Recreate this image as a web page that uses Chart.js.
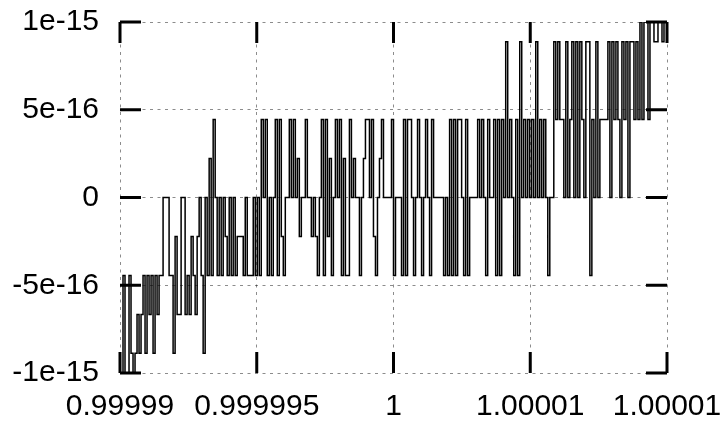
<!DOCTYPE html>
<html>
<head>
<meta charset="utf-8">
<script src="https://cdn.jsdelivr.net/npm/chart.js@4"></script>
<style>
  html, body { margin: 0; padding: 0; background: #fff; }
  canvas { display: block; }
</style>
</head>
<body>
<canvas id="plot" width="726" height="421"></canvas>
<script>
// x range and ticks
const xMin = 0.99999;
const xMax = 1.00001;
const xTickValues = [0.99999, 0.999995, 1, 1.000005, 1.00001];
const xTickLabels = ['0.99999', '0.999995', '1', '1.00001', '1.00001'];

// y ticks
const yTickValues = [-1e-15, -5e-16, 0, 5e-16, 1e-15];
const yTickLabels = ['-1e-15', '-5e-16', '0', '5e-16', '1e-15'];

const yValues = [
  -1e-15, -1e-15, -4.44e-16, -1e-15, -1e-15, -4.44e-16, -8.88e-16, -1e-15, -8.88e-16, -6.66e-16,
  -8.88e-16, -6.66e-16, -4.44e-16, -8.88e-16, -4.44e-16, -6.66e-16, -4.44e-16, -8.88e-16, -4.44e-16, -6.66e-16,
  -4.44e-16, -4.44e-16, 0, 0, 0, -4.44e-16, -4.44e-16, -8.88e-16, -2.22e-16, -6.66e-16,
  -6.66e-16, 0, 0, -6.66e-16, -4.44e-16, -6.66e-16, -2.22e-16, -4.44e-16, -6.66e-16, -2.22e-16,
  0, -4.44e-16, -8.88e-16, 0, -4.44e-16, 2.22e-16, -4.44e-16, 4.44e-16, 0, -4.44e-16,
  0, -4.44e-16, 0, -2.22e-16, -4.44e-16, 0, -4.44e-16, 0, -4.44e-16, -2.22e-16,
  -2.22e-16, -2.22e-16, -4.44e-16, 0, -4.44e-16, -4.44e-16, -4.44e-16, 0, -4.44e-16, 0,
  -4.44e-16, 4.44e-16, 0, 4.44e-16, -4.44e-16, 0, -4.44e-16, 0, 4.44e-16, -4.44e-16,
  4.44e-16, -2.22e-16, -4.44e-16, 0, 0, 4.44e-16, 0, 4.44e-16, 0, 2.22e-16,
  -2.22e-16, 0, 0, 4.44e-16, 0, 0, -2.22e-16, 0, -2.22e-16, -4.44e-16,
  0, 4.44e-16, -4.44e-16, 4.44e-16, -2.22e-16, 2.22e-16, -4.44e-16, 0, 4.44e-16, 0,
  4.44e-16, -4.44e-16, 2.22e-16, -4.44e-16, -4.44e-16, 4.44e-16, 0, 2.22e-16, 0, 0,
  -4.44e-16, 0, 2.22e-16, 4.44e-16, 4.44e-16, 0, 4.44e-16, -2.22e-16, -4.44e-16, 0,
  2.22e-16, 4.44e-16, 0, 0, 0, 0, 4.44e-16, -4.44e-16, 0, 0,
  0, -4.44e-16, 4.44e-16, -4.44e-16, 4.44e-16, 4.44e-16, 0, -4.44e-16, 0, 4.44e-16,
  0, -4.44e-16, 0, 4.44e-16, 0, -4.44e-16, 4.44e-16, 0, 0, 0,
  0, 0, -4.44e-16, 0, -4.44e-16, 4.44e-16, -4.44e-16, 4.44e-16, -4.44e-16, 4.44e-16,
  4.44e-16, 0, -4.44e-16, 4.44e-16, -4.44e-16, 0, 0, 0, 0, 4.44e-16,
  0, 4.44e-16, 0, -4.44e-16, 4.44e-16, 0, 0, 4.44e-16, -4.44e-16, 4.44e-16,
  -4.44e-16, 4.44e-16, 0, 8.88e-16, 0, 4.44e-16, 0, -4.44e-16, 4.44e-16, -4.44e-16,
  8.88e-16, 0, 4.44e-16, 0, 4.44e-16, 0, 4.44e-16, 0, 8.88e-16, 0,
  4.44e-16, 0, 4.44e-16, 0, -4.44e-16, 0, 0, 8.88e-16, 4.44e-16, 8.88e-16,
  4.44e-16, 4.44e-16, 0, 8.88e-16, 0, 4.44e-16, 8.88e-16, 0, 8.88e-16, 0,
  8.88e-16, 4.44e-16, 0, 8.88e-16, 8.88e-16, -4.44e-16, 4.44e-16, 0, 8.88e-16, 0,
  4.44e-16, 4.44e-16, 4.44e-16, 4.44e-16, 8.88e-16, 0, 8.88e-16, 4.44e-16, 8.88e-16, 4.44e-16,
  0, 8.88e-16, 4.44e-16, 8.88e-16, 0, 8.88e-16, 8.88e-16, 4.44e-16, 8.88e-16, 4.44e-16,
  1e-15, 4.44e-16, 1e-15, 1e-15, 4.44e-16, 1e-15, 1e-15, 8.88e-16, 8.88e-16, 1e-15,
  1e-15, 8.88e-16, 1e-15, 1e-15
];

const points = yValues.map((y, i) => ({
  x: xMin + i * (xMax - xMin) / (yValues.length - 1),
  y: y
}));

const labelFont = { family: 'Liberation Sans, Arial, sans-serif', size: 30 };

// gnuplot style: short thick tick marks pointing inward on all four sides
const innerTicks = {
  id: 'innerTicks',
  afterDatasetsDraw(chart) {
    const { ctx, chartArea: a, scales } = chart;
    const len = 21;
    ctx.save();
    ctx.strokeStyle = '#000';
    ctx.lineWidth = 3;
    ctx.beginPath();
    xTickValues.forEach(v => {
      const px = scales.x.getPixelForValue(v);
      ctx.moveTo(px, a.top); ctx.lineTo(px, a.top + len);
      ctx.moveTo(px, a.bottom); ctx.lineTo(px, a.bottom - len);
    });
    yTickValues.forEach(v => {
      const py = scales.y.getPixelForValue(v);
      ctx.moveTo(a.left, py); ctx.lineTo(a.left + len, py);
      ctx.moveTo(a.right, py); ctx.lineTo(a.right - len, py);
    });
    ctx.stroke();
    ctx.restore();
  }
};

const gridStyle = {
  color: 'rgba(0,0,0,0.45)',
  lineWidth: 1,
  drawTicks: false
};

new Chart(document.getElementById('plot').getContext('2d'), {
  type: 'line',
  data: {
    datasets: [{
      data: points,
      borderColor: '#000',
      borderWidth: 1.5,
      pointRadius: 0,
      fill: false,
      stepped: 'middle'
    }]
  },
  options: {
    responsive: false,
    animation: false,
    layout: { padding: { left: 0, right: 59, top: 22, bottom: 0 } },
    plugins: {
      legend: { display: false },
      tooltip: { enabled: false }
    },
    scales: {
      x: {
        type: 'linear',
        min: xMin,
        max: xMax,
        afterBuildTicks: s => { s.ticks = xTickValues.map(v => ({ value: v })); },
        afterFit: s => {
          s.height = 48;
          s.paddingLeft = 0;
          s.paddingRight = 0;
        },
        grid: gridStyle,
        border: { display: false, dash: [3, 4.5] },
        ticks: {
          autoSkip: false,
          maxRotation: 0,
          padding: 16,
          color: '#000',
          font: labelFont,
          callback: (v, i) => xTickLabels[i]
        }
      },
      y: {
        type: 'linear',
        min: -1e-15,
        max: 1e-15,
        afterBuildTicks: s => { s.ticks = yTickValues.map(v => ({ value: v })); },
        afterFit: s => {
          s.width = 120;
          s.paddingTop = 0;
          s.paddingBottom = 0;
        },
        grid: gridStyle,
        border: { display: false, dash: [3, 4.5] },
        ticks: {
          autoSkip: false,
          padding: 21,
          color: '#000',
          font: labelFont,
          callback: (v, i) => yTickLabels[i]
        }
      }
    }
  },
  plugins: [innerTicks]
});
</script>
</body>
</html>
